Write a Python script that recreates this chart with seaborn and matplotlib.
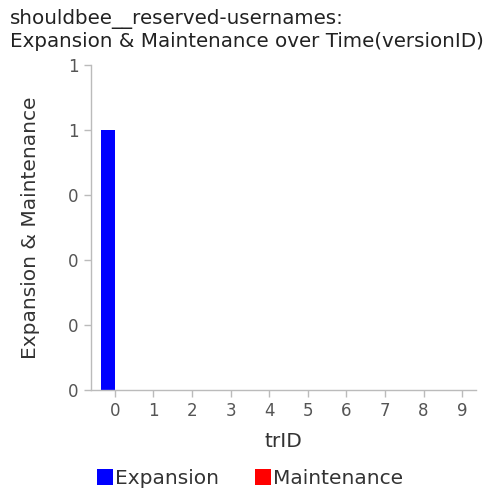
import numpy as np
import pandas as pd
import matplotlib
matplotlib.use("Agg")
import matplotlib.pyplot as plt
import seaborn as sns
from matplotlib.ticker import FuncFormatter, MultipleLocator
from matplotlib.patches import Patch

categories = [0, 1, 2, 3, 4, 5, 6, 7, 8, 9]
expansion = [1, 0, 0, 0, 0, 0, 0, 0, 0, 0]
maintenance = [0, 0, 0, 0, 0, 0, 0, 0, 0, 0]
series = ["Expansion", "Maintenance"]
colors = ["#0000ff", "#ff0000"]

df = pd.DataFrame({
    "trID": categories * 2,
    "value": expansion + maintenance,
    "type": ["Expansion"] * len(categories) + ["Maintenance"] * len(categories),
})

sns.set_theme(style="white")
plt.rcParams['font.family'] = ['DejaVu Sans']

fig = plt.figure(figsize=(5, 5), dpi=100)
ax = fig.add_axes([0.182, 0.22, 0.77, 0.65])

sns.barplot(data=df, x="trID", y="value", hue="type", palette=colors,
            hue_order=series, width=0.72, ax=ax, legend=False,
            saturation=1, linewidth=0)

ax.set_xlim(-0.62, 9.36)
ax.set_ylim(0, 1.25)
ax.yaxis.set_major_locator(MultipleLocator(0.25))
ax.yaxis.set_major_formatter(FuncFormatter(lambda v, p: str(int(np.floor(v + 1e-9)))))

for s in ["top", "right"]:
    ax.spines[s].set_visible(False)
for s in ["left", "bottom"]:
    ax.spines[s].set_color("#bbbbbb")
    ax.spines[s].set_linewidth(1)
ax.tick_params(axis="both", which="major", length=5, width=1, color="#bbbbbb",
               labelcolor="#555555", labelsize=12, direction="out", pad=4)
ax.tick_params(left=True, bottom=True)

ax.set_xlabel("trID", fontsize=14.5, color="#333333", labelpad=8)
ax.set_ylabel("Expansion & Maintenance", fontsize=14.5, color="#333333", labelpad=20)

fig.text(0.02, 0.982, "shouldbee__reserved-usernames:\nExpansion & Maintenance over Time(versionID)",
         ha="left", va="top", fontsize=14.3, color="#222222", linespacing=1.2)

handles = [Patch(facecolor=c, edgecolor="none") for c in colors]
fig.legend(handles, series, loc="lower center", bbox_to_anchor=(0.5, -0.012), ncol=2,
           frameon=False, fontsize=14.5, handlelength=0.8, handleheight=0.8,
           handletextpad=0.1, columnspacing=1.8, labelcolor="#333333")

fig.savefig("out.png", dpi=100)
